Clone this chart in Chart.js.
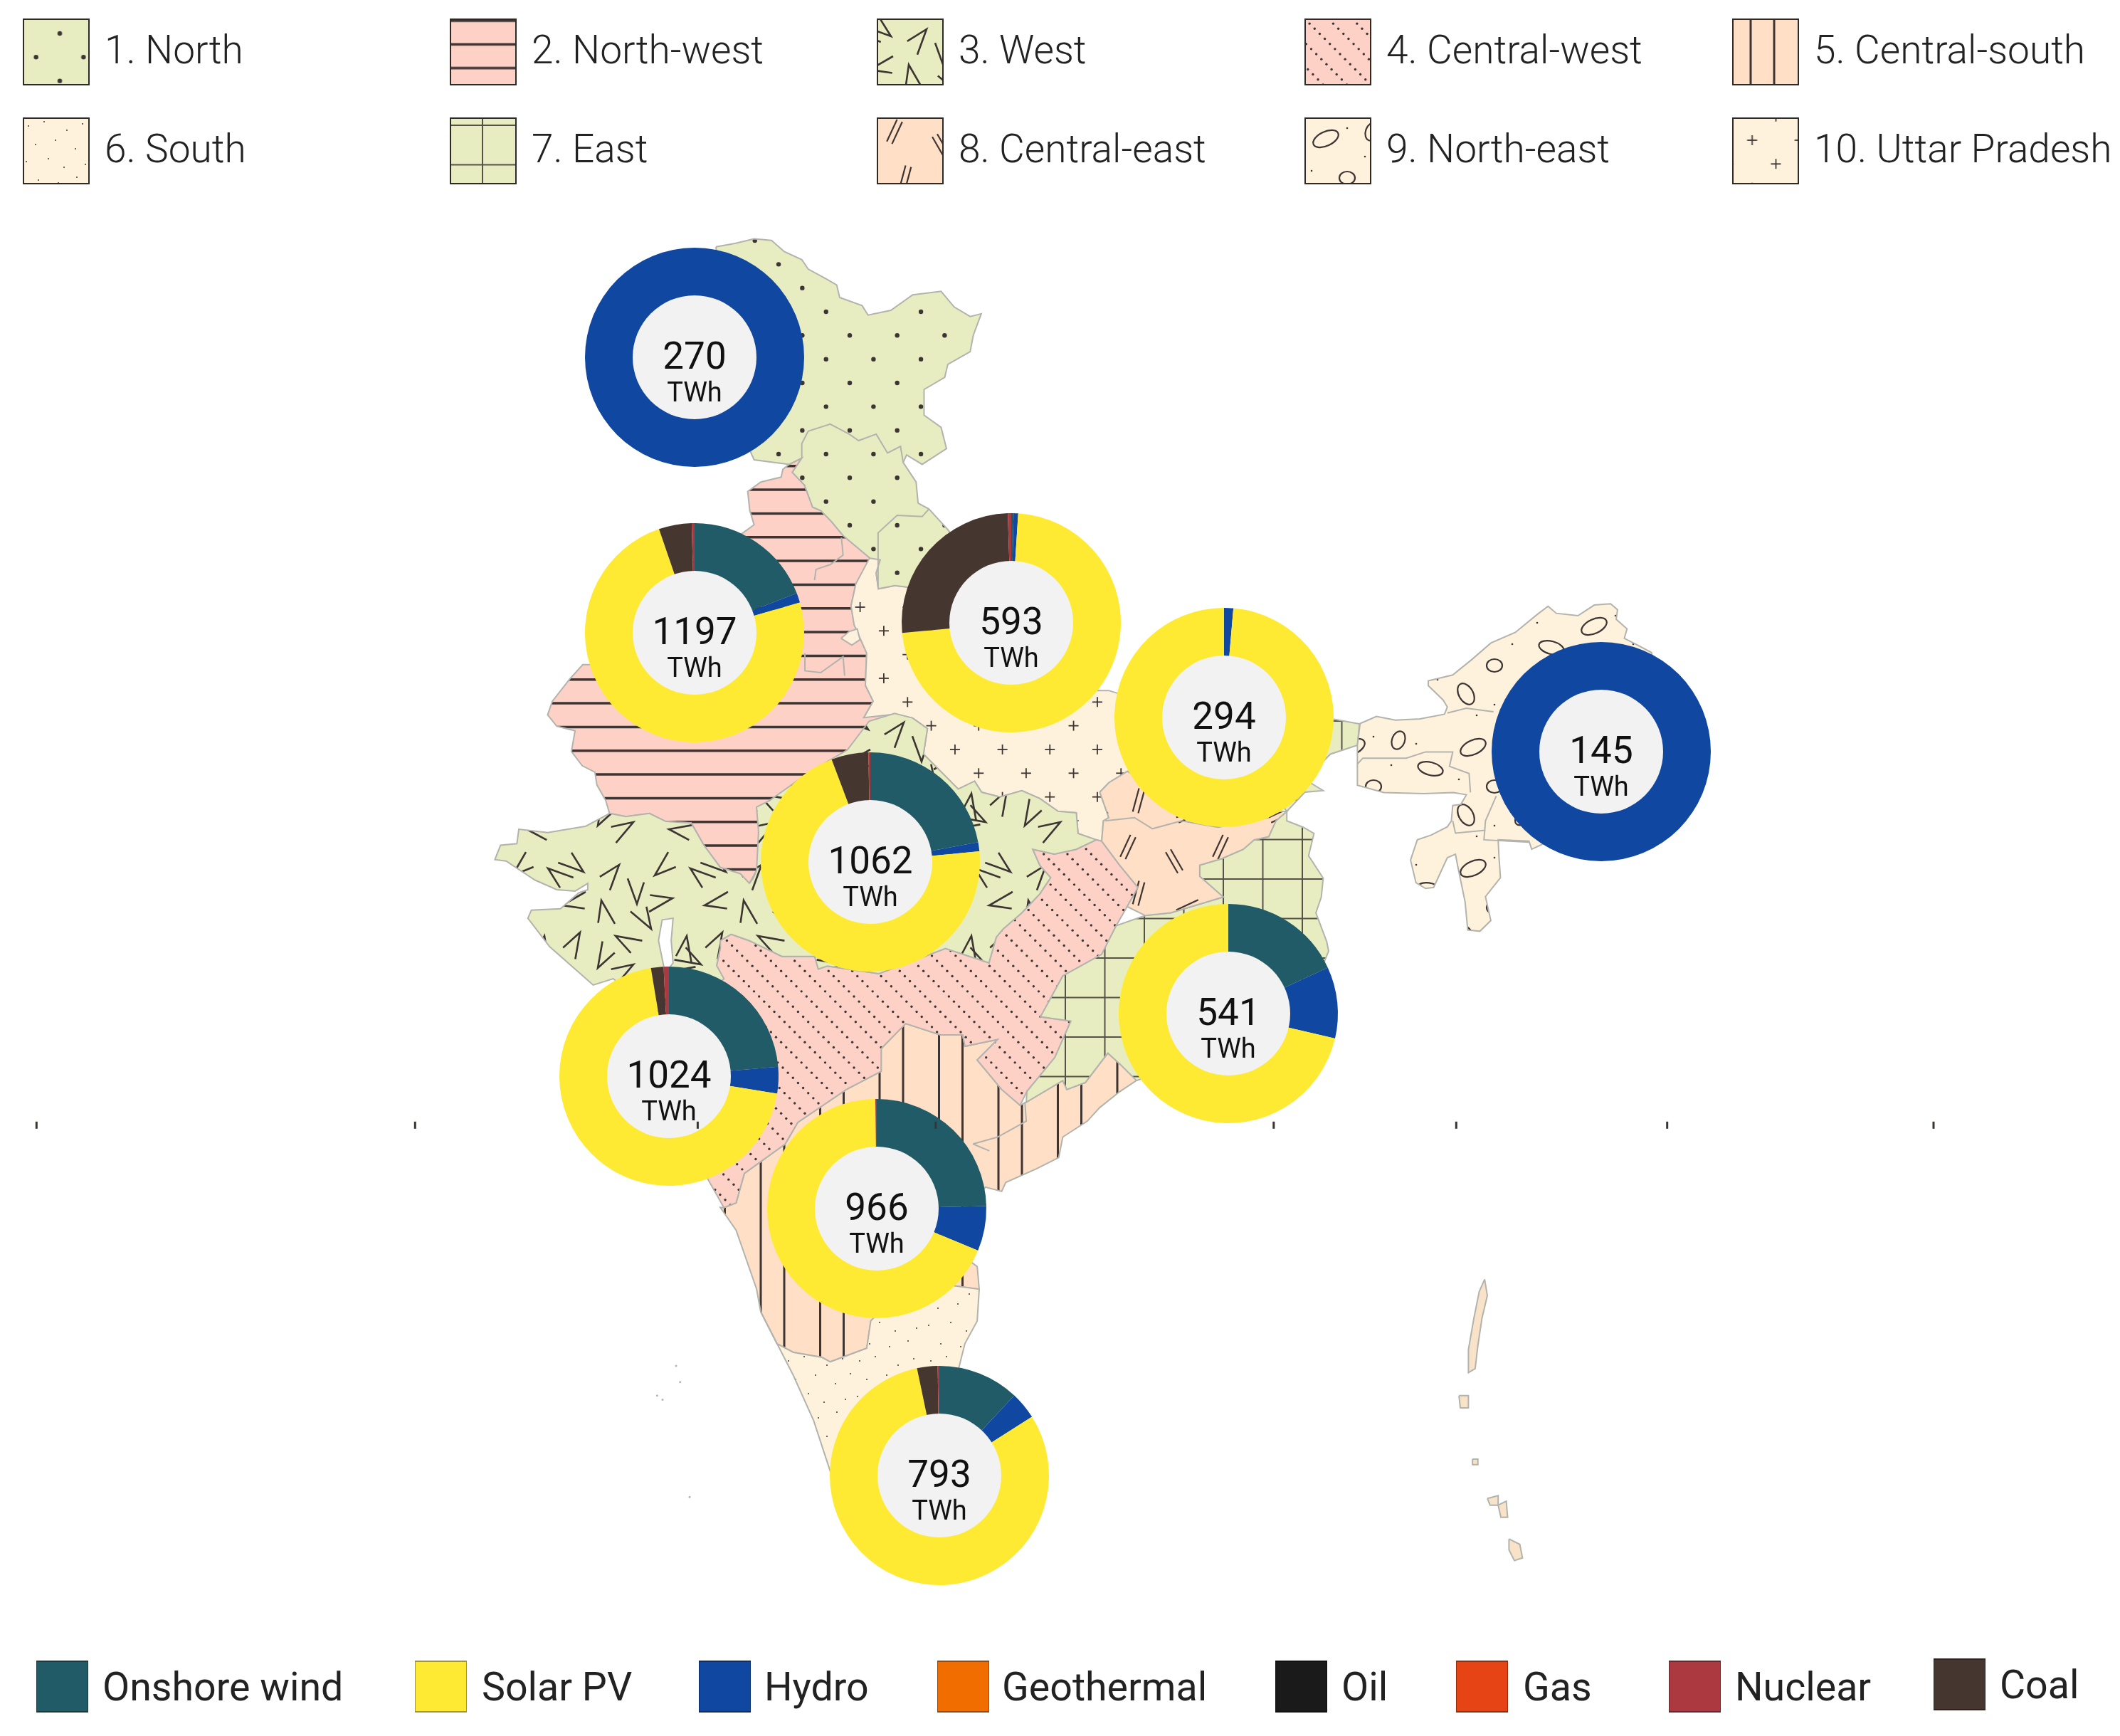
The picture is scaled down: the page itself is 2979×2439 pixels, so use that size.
<!DOCTYPE html>
<html>
<head>
<meta charset="utf-8">
<title>India regions</title>
<script src="https://cdn.jsdelivr.net/npm/chart.js@4"></script>
<style>
  html, body { margin: 0; background: #fff; }
  #page { position: relative; width: 2979px; height: 2439px; overflow: hidden; font-family: Roboto, sans-serif; }
  canvas { position: absolute; }
  .hole { position: absolute; width: 174px; height: 174px; border-radius: 50%; background: #f2f2f2; z-index: 3; }
  .num, .unit, .lab { position: absolute; white-space: nowrap; line-height: 1; transform: translateY(-50%); }
  .num, .unit { transform: translate(-50%, -50%); color: #111; z-index: 4; }
  .num { font-size: 53px; }
  .unit { font-size: 38px; }
  .lab { font-size: 55px; font-weight: 300; color: #222; }
  .fuel { font-size: 55.5px; font-weight: 400; color: #222; }
  .chip { position: absolute; width: 73px; height: 73px; box-sizing: border-box; border: 1px solid rgba(0,0,0,.35); border-top-width: 2px; border-bottom-width: 2px; }
</style>
</head>
<body>
<div id="page"></div>
<script>
// values, TWh per region
const regions = ["1. North", "2. North-west", "3. West", "4. Central-west", "5. Central-south",
                 "6. South", "7. East", "8. Central-east", "9. North-east", "10. Uttar Pradesh"];
const totals = [270, 1197, 1062, 1024, 966, 793, 541, 294, 145, 593];

const onshoreWind = [0, 229, 235, 242, 238, 95, 98, 0, 0, 2];
const hydro = [270, 17, 14, 40, 64, 32, 57, 4, 145, 4];
const solarPv = [0, 888, 752, 715, 662, 640, 386, 290, 0, 430];
const geothermal = [0, 0, 0, 0, 0, 0, 0, 0, 0, 0];
const oil = [0, 0, 0, 0, 0, 0, 0, 0, 0, 0];
const gas = [0, 0, 0, 0, 0, 0, 0, 0, 0, 0];
const coal = [0, 58, 58, 19, 0, 24, 0, 0, 0, 154];
const nuclear = [0, 5, 3, 8, 2, 2, 0, 0, 0, 3];

// map outlines (map units)
const northOutline = [[529.5,182.5],[543.6,180],[557.7,176.6],[570.6,177.8],[580,186],[593,192],[597.7,199],[610.6,206],[618.8,210.7],[621,220],[637.6,226],[642,233],[658.8,229.5],[675,218],[696,215.4],[705.7,227],[717.5,234],[725.7,232],[719.8,248],[717.5,260],[701,269.4],[698.7,279],[683.4,288],[683.4,307],[696,316],[700,331.7],[682,343.4],[670.5,336.4],[668,342],[677.5,356.4],[679,372],[687,376.4],[701,391.6],[715,410],[690,440],[669.7,434],[661.7,433],[649.6,435.4],[648,423.7],[651,414],[643.5,412.8],[623.5,396],[615,385.7],[607,377.5],[601,375],[595,358.7],[586,349.3],[593,338.7],[583.6,343.4],[557.7,340],[540,300]];
const northWestOutline = [[593,338.7],[586,349.3],[595,358.7],[601,375],[607,377.5],[615,385.7],[623.5,396],[643.5,412.8],[633,431.6],[629.4,448],[631.7,462],[641,483],[640,506.7],[645.8,518.5],[638.9,530.6],[661.7,528.2],[652.3,538.8],[626.8,555.3],[610,590],[562,634],[559.5,643.8],[554.2,653.2],[547.5,646.1],[532.7,641.4],[520.6,625],[511.2,608.5],[492.4,607.4],[480.3,601.5],[462.9,603.8],[450.8,601.5],[448,592],[441.4,580.3],[440,571],[430.6,566.2],[422.6,555.7],[425.3,540.4],[411.8,537],[405,528.6],[408.5,518.5],[421.4,502],[431,491.5],[438,491.5],[470,440],[549.5,394],[557.7,388],[554.5,377.5],[553,363.4],[562.7,356.4],[577.7,352.8],[579,347],[583.6,343.4]];
const westOutline = [[450.8,601.5],[462.9,603.8],[480.3,601.5],[492.4,607.4],[511.2,608.5],[520.6,625],[532.7,641.4],[547.5,646.1],[554.2,653.2],[556.9,649.7],[559.5,643.8],[561,615],[559.5,596.8],[569,592],[600,570],[626.7,554.5],[642.8,533.3],[661.6,527.5],[675,531],[685.9,538.8],[683,557.6],[708.7,583.5],[720.8,577.6],[726,585.8],[739.6,589.3],[755.7,584.6],[769,590.5],[782.5,599.9],[796,601],[797.3,616.3],[810.7,621],[796,628],[779.8,631.6],[763.7,628],[769,640],[777,649],[769,661],[755.7,675],[742,686.8],[736.8,693],[731.4,712],[699.2,701.3],[650,720],[611.9,714.3],[605.2,716.6],[602.5,707.2],[578.3,707.2],[554,695.5],[540.7,690.8],[532.7,695.5],[532.7,701],[530,714],[535.4,723.7],[500,760],[453.5,723.7],[438.7,728.4],[425.3,716.6],[406.5,700],[390.4,679],[393,673],[414.5,672],[428,660.2],[434.7,657.9],[434.7,653.2],[425.3,659],[411.8,657.9],[395.7,650.8],[374.3,636.7],[366,635.6],[370.2,625],[382.3,623.8],[383.7,613.2],[405.1,615.6],[433.3,610.9]];
const gulfOutline = [[492,720],[487,695.5],[489.7,680.2],[497.8,679],[496.4,695.5],[497.8,712]];
const centralWestOutline = [[532.7,695.5],[540.7,690.8],[554,695.5],[578.3,707.2],[602.5,707.2],[605.2,716.6],[611.9,714.3],[650,720],[699.2,701.3],[731.4,712],[736.8,693],[742,686.8],[755.7,675],[769,661],[777,649],[769,640],[763.7,628],[779.8,631.6],[796,628],[810.7,621],[814.8,622],[828.2,639.9],[841.6,656.3],[833.6,670.4],[825.5,684.5],[814.8,705.7],[786,721.7],[769.5,751.9],[792,755],[780.1,782],[759.5,807],[754.4,817.3],[740.8,805.6],[722.7,783.8],[737.8,768.7],[713.6,773.7],[712,765.3],[695.5,765.3],[669.8,756.9],[651.7,775.4],[651.7,792.2],[626,805.6],[590,830],[580.7,845.9],[550.5,867.7],[544.4,889.5],[535.4,893],[523,871],[505,800],[530,714],[532.7,701]];
const centralSouthOutline = [[669.8,756.9],[695.5,765.3],[712,765.3],[713.6,773.7],[737.8,768.7],[722.7,783.8],[740.8,805.6],[754.4,817.3],[759,815],[786,799],[789,805.6],[802.7,800.5],[819.3,778.7],[828.4,787],[843,795],[840.5,799],[828.4,807],[813.3,819],[804.2,829],[786,840.8],[783,856],[766.5,864.3],[743.8,874.4],[740.8,881],[728.7,877.8],[700,920],[722.7,936.5],[724.2,953.3],[700,950],[660,960],[644,976.8],[641,997],[614,1007],[607.9,1003.7],[586.7,1000],[574.6,993.6],[562.6,970],[559.5,953],[544.4,909.7],[532.7,892.8],[535.4,893],[544.4,889.5],[550.5,867.7],[580.7,845.9],[590,830],[626,805.6],[651.7,792.2],[651.7,775.4]];
const southOutline = [[562.6,970],[574.6,993.6],[586.7,1000],[607.9,1003.7],[614,1007],[641,997],[644,976.8],[660,960],[700,950],[724.2,953.3],[722.7,976.8],[713.6,993.6],[709,1012],[700,1080],[650,1130],[620,1105],[613.9,1087.6],[601.8,1050.6],[586.7,1017]];
const eastOutline = [[951.7,600],[951.7,607],[963.8,611.7],[971.8,616.3],[967.8,632.8],[978.6,649.3],[977.2,663.3],[973.2,675],[981.2,696.2],[982.6,703.3],[960,760],[840.5,799],[828.4,787],[819.3,778.7],[802.7,800.5],[789,805.6],[786,799],[759,815],[759.5,807],[780.1,782],[792,755],[769.5,751.9],[786,721.7],[814.8,705.7],[825.5,684.5],[847,677],[865.8,675],[904.7,663.3],[887.3,648],[887.3,639.8],[903.4,635],[919.5,628],[927.5,621],[938.3,618.7],[943.6,607]];
const eastNorthOutline = [[960,530],[986.6,531.8],[1005.4,535.3],[1003.9,551],[984,557.6],[965,576.4],[978.6,584.6],[965,585.8],[951.7,600],[930,570]];
const centralEastOutline = [[813.4,585.8],[820,578.8],[833.6,570.5],[900,600],[951.7,600],[943.6,607],[938.3,618.7],[927.5,621],[919.5,628],[903.4,635],[887.3,639.8],[887.3,648],[904.7,663.3],[865.8,675],[847,677],[833.6,670.4],[841.6,656.3],[828.2,639.9],[814.8,622],[816,607],[820,604.6]];
const northEastOutline = [[1003.9,551],[1005.9,535],[1018,529.8],[1032,532.5],[1050.2,531.6],[1068.3,528.1],[1070.4,522.8],[1067.3,517.6],[1056.3,507],[1056.3,503.5],[1074.4,499.1],[1088.5,487.7],[1102.6,475.5],[1120.7,467.6],[1136.8,454.4],[1144.9,448.3],[1151,453.5],[1167,455.3],[1179.1,447.4],[1191.2,446.5],[1196.3,450.9],[1195.3,457.9],[1203.3,465],[1201.3,472],[1211.4,477.2],[1221.4,482.5],[1240,560],[1150,620],[1132.8,628],[1130.8,622],[1108,621],[1108.6,633.4],[1109.7,649],[1098.6,663],[1102.6,680.7],[1094.5,688.6],[1085.5,687.7],[1083.5,666.7],[1078.4,642],[1076.4,631.6],[1070.4,634.2],[1060.3,656.2],[1054.3,657],[1047.2,652.7],[1043.2,636],[1048.2,621],[1058.3,617.6],[1070.4,611.4],[1073.4,607],[1074.4,595.6],[1080.4,594.8],[1084.5,587.7],[1075,586],[1053,586.9],[1023.4,586],[1003.9,580.7],[1003.9,577.2]];
const uttarPradeshOutline = [[644,411],[633,431.6],[629.4,448],[631.7,462],[641,483],[640,506.7],[645.8,518.5],[638.9,530.6],[661.7,528.2],[675,531],[685.9,538.8],[683,557.6],[708.7,583.5],[720.8,577.6],[726,585.8],[739.6,589.3],[755.7,584.6],[769,590.5],[782.5,599.9],[796,601],[797.3,616.3],[810.7,621],[814.8,622],[816,607],[820,604.6],[813.4,585.8],[820,578.8],[833.6,570.5],[860,560],[850,520],[820,510.6],[812,510.6],[790,480],[700,430],[669.7,434],[661.7,433],[649.6,435.4],[648,423.7],[651,414]];
const delhiOutline = [[622,472],[628,467],[634,465],[636,473],[630,477]];
const islandOutlines = [
  [[1098,946],[1100,958],[1096,975],[1093,995],[1091,1012],[1086,1015],[1086,998],[1090,975],[1094,955]],
  [[1079,1032],[1086,1032],[1086,1041],[1080,1041]],
  [[1089,1079],[1093,1079],[1093,1083],[1089,1083]],
  [[1100,1108],[1108,1106],[1108,1113],[1102,1113]],
  [[1108,1113],[1114,1110],[1115,1122],[1110,1122]],
  [[1116,1138],[1124,1142],[1126,1152],[1120,1154],[1116,1146]]
];
const stateBorders = [
  [[593,339],[593,328],[597.7,318.8],[614,313.6],[628,321],[635,325.8],[648,321],[656.4,335],[666,330],[668,342]],
  [[649.4,434],[649.4,394],[663.5,381],[682,382],[687,376.4]],
  [[622.3,397.5],[623.5,410.4],[614,417.5],[603.5,421],[602.4,429]],
  [[595.3,483],[595.3,496],[607,497.4],[623.5,485.6],[624.7,499.7]],
  [[817.4,607],[839,604.6],[852.3,612.8],[873.8,607],[900.7,611.7],[938.3,604.6]],
  [[719.6,845.9],[737.8,840.8],[759,829],[758,815]],
  [[719.6,845.9],[731.7,851]],
  [[1003.9,565],[1007.9,560.6],[1023.4,560.6],[1040,560.6],[1054.3,556],[1074.4,556],[1072,566.7],[1086.5,572],[1087.5,586]],
  [[1070.4,527.2],[1084.5,523.7],[1104.6,526.3]],
  [[1106.6,588.6],[1098.6,607],[1097.5,621],[1130.8,622.8]],
  [[1074.4,607],[1076.4,616],[1098.6,614]]
];
const specks = [[486,1032],[500,1010],[510,1107],[490,1035],[503,1022]];
const strayTicks = [27, 307, 516, 692, 942, 1077, 1233, 1430];

// page layout
const mapWidth = 2979 / 1.9, mapHeight = 2439 / 1.9;
const donutSpots = [[976,502],[976,889],[1223,1211],[940,1512],[1232,1698],[1320,2073],[1726,1424],[1720,1008],[2250,1056],[1421,875]];
const page = document.getElementById("page");

function addCanvas(x, y, w, h, z) {
    const c = document.createElement("canvas");
    c.width = w; c.height = h;
    c.style.cssText = `left:${x}px;top:${y}px;width:${w}px;height:${h}px;z-index:${z}`;
    page.appendChild(c);
    return c;
}

function addText(cls, text, x, y) {
    const el = document.createElement("div");
    el.className = cls;
    el.textContent = text;
    el.style.left = x + "px";
    el.style.top = y + "px";
    page.appendChild(el);
    return el;
}

// ---- hatch tiles ----
const ink = "#3c3533";

function tile(size, bg, draw) {
    const c = document.createElement("canvas");
    c.width = size; c.height = size;
    const g = c.getContext("2d");
    g.fillStyle = bg;
    g.fillRect(0, 0, size, size);
    g.strokeStyle = ink;
    g.fillStyle = ink;
    g.lineCap = "butt";
    // every motif is painted 9 times so it wraps at the tile edge
    for (const dx of [-size, 0, size]) {
        for (const dy of [-size, 0, size]) {
            g.save();
            g.translate(dx, dy);
            draw(g);
            g.restore();
        }
    }
    return c;
}

function dot(g, x, y, r) {
    g.beginPath();
    g.arc(x, y, r, 0, Math.PI * 2);
    g.fill();
}

function seg(g, x1, y1, x2, y2) {
    g.beginPath();
    g.moveTo(x1, y1);
    g.lineTo(x2, y2);
    g.stroke();
}

const chevrons = [[20,25,200],[70,15,110],[120,30,300],[170,20,20],[45,65,60],[95,70,250],[145,62,150],[190,72,330],
                  [15,110,100],[65,115,10],[115,105,220],[165,115,80],[40,160,280],[90,155,130],[140,165,350],[185,155,190]];
const doubleStrokes = [[25,20,-65],[90,40,60],[40,85,105],[110,105,-25]];
const ovals = [[30,30,19,10,-25],[95,20,9,13,20],[140,60,18,9,15],[60,85,11,9,0],[20,125,10,16,-30],[105,125,19,10,-40]];
const fineDots = [[8,12],[30,6],[62,18],[84,9],[18,38],[46,32],[74,44],[95,30],[5,62],[36,58],[58,70],[88,66],[22,88],[50,92],[76,84]];
const ovalDots = [[60,15],[120,25],[10,75],[85,55],[150,105],[60,140],[135,150],[35,155]];

const hatch = {
    north: tile(200, "#e8edc1", g => {
        for (let i = 0; i < 3; i++) for (let j = 0; j < 3; j++) {
            dot(g, 27.4 + i * 66.67, 38 + j * 66.67, 3.2);
            dot(g, 60.7 + i * 66.67, 71.3 + j * 66.67, 3.2);
        }
    }),
    northWest: tile(100, "#fdd1c6", g => {
        g.lineWidth = 3.5;
        for (let j = 0; j < 3; j++) seg(g, 0, 21.4 + j * 33.33, 100, 21.4 + j * 33.33);
    }),
    west: tile(200, "#e8edc1", g => {
        g.lineWidth = 2.6;
        for (const [x, y, a] of chevrons) {
            const r1 = a * Math.PI / 180, r2 = (a + 38) * Math.PI / 180;
            g.beginPath();
            g.moveTo(x + 38 * Math.cos(r1), y + 38 * Math.sin(r1));
            g.lineTo(x, y);
            g.lineTo(x + 32 * Math.cos(r2), y + 32 * Math.sin(r2));
            g.stroke();
        }
    }),
    centralWest: tile(100, "#fdd1c6", g => {
        for (let k = 0; k < 3; k++) for (let i = 0; i < 14; i++) {
            dot(g, (i * 7.143 + k * 33.33) % 100, i * 7.143, 1.7);
        }
    }),
    centralSouth: tile(167, "#ffdfc5", g => {
        g.lineWidth = 3;
        for (const x of [16.5, 67, 100, 150.5]) seg(g, x, 0, x, 167);
    }),
    south: tile(100, "#fff2dc", g => {
        for (const [x, y] of fineDots) dot(g, x, y, 1);
    }),
    east: tile(111, "#e8edc1", g => {
        g.lineWidth = 2;
        g.strokeStyle = "#56524a";
        for (const x of [54, 109.5]) seg(g, x, 0, x, 111);
        for (const y of [14, 69.5]) seg(g, 0, y, 111, y);
    }),
    centralEast: tile(130, "#ffdfc5", g => {
        g.lineWidth = 2.2;
        for (const [x, y, a] of doubleStrokes) {
            const r = a * Math.PI / 180;
            const c = Math.cos(r), s = Math.sin(r);
            for (const off of [-4, 4]) {
                seg(g, x - 17 * c - off * s, y - 17 * s + off * c, x + 17 * c - off * s, y + 17 * s + off * c);
            }
        }
    }),
    northEast: tile(170, "#fff2dc", g => {
        g.lineWidth = 2.2;
        for (const [x, y, rx, ry, a] of ovals) {
            g.beginPath();
            g.ellipse(x, y, rx, ry, a * Math.PI / 180, 0, Math.PI * 2);
            g.stroke();
        }
        for (const [x, y] of ovalDots) dot(g, x, y, 1.3);
    }),
    uttarPradesh: tile(200, "#fff2dc", g => {
        g.lineWidth = 1.8;
        const plus = (x, y) => { seg(g, x - 7, y, x + 7, y); seg(g, x, y - 7, x, y + 7); };
        for (let i = 0; i < 3; i++) for (let j = 0; j < 3; j++) {
            plus(8.6 + i * 66.67, 53 + j * 66.67);
            plus(41.9 + i * 66.67, 86.3 + j * 66.67);
        }
    })
};

// ---- map ----
const mapCanvas = addCanvas(0, 0, 2979, 2439, 1);
const mapCtx = mapCanvas.getContext("2d");

function shape(outline, fillStyle) {
    const pts = outline.concat([outline[0]]).map(p => ({x: p[0], y: p[1]}));
    return {
        data: pts, showLine: true, fill: "shape", tension: 0,
        backgroundColor: fillStyle, borderColor: "#b3b3ae", borderWidth: 2, pointRadius: 0
    };
}

function pat(name) {
    return mapCtx.createPattern(hatch[name], "repeat");
}

// painted in this order, later ones on top
const mapLayers = [
    shape(northWestOutline, pat("northWest")),
    shape(uttarPradeshOutline, pat("uttarPradesh")),
    shape(northOutline, pat("north")),
    shape(centralSouthOutline, pat("centralSouth")),
    shape(southOutline, pat("south")),
    shape(centralWestOutline, pat("centralWest")),
    shape(westOutline, pat("west")),
    shape(gulfOutline, "#ffffff"),
    shape(eastOutline, pat("east")),
    shape(eastNorthOutline, pat("east")),
    shape(centralEastOutline, pat("centralEast")),
    shape(northEastOutline, pat("northEast")),
    shape(delhiOutline, "#fff2dc")
];
for (const isle of islandOutlines) mapLayers.push(shape(isle, "#f8e2c8"));
for (const line of stateBorders) {
    mapLayers.push({
        data: line.map(p => ({x: p[0], y: p[1]})), showLine: true, fill: false,
        borderColor: "#b3b3ae", borderWidth: 2, pointRadius: 0
    });
}
mapLayers.push({
    data: specks.map(p => ({x: p[0], y: p[1]})), showLine: false,
    pointRadius: 1.5, pointBackgroundColor: "#b5b5b0", pointBorderWidth: 0
});
mapLayers.forEach((d, i) => { d.order = mapLayers.length - i; });

function flatOptions() {
    return {
        responsive: false, animation: false, events: [],
        layout: { padding: 0, autoPadding: false },
        plugins: { legend: { display: false }, tooltip: { enabled: false } },
        scales: {
            x: { type: "linear", display: false, min: 0, max: mapWidth },
            y: { type: "linear", display: false, min: 0, max: mapHeight, reverse: true }
        }
    };
}

new Chart(mapCtx, { type: "scatter", data: { datasets: mapLayers }, options: flatOptions() });

// ---- doughnuts ----
const fuelNames = ["Onshore wind", "Hydro", "Solar PV", "Geothermal", "Oil", "Gas", "Coal", "Nuclear"];
const fuelSeries = [onshoreWind, hydro, solarPv, geothermal, oil, gas, coal, nuclear];
const fuelColors = {
    "Onshore wind": "#215b67", "Solar PV": "#ffea33", "Hydro": "#0f47a1", "Geothermal": "#f26d00",
    "Oil": "#1a1a1a", "Gas": "#e64414", "Nuclear": "#ac3840", "Coal": "#463630"
};

regions.forEach((name, i) => {
    const [cx, cy] = donutSpots[i];
    const c = addCanvas(cx - 160, cy - 160, 320, 320, 2);
    new Chart(c, {
        type: "doughnut",
        data: {
            labels: fuelNames,
            datasets: [{
                data: fuelSeries.map(s => s[i]),
                backgroundColor: fuelNames.map(f => fuelColors[f]),
                borderWidth: 0
            }]
        },
        options: {
            responsive: false, animation: false, events: [],
            radius: 154, cutout: 87,
            plugins: { legend: { display: false }, tooltip: { enabled: false } }
        }
    });
    const hole = document.createElement("div");
    hole.className = "hole";
    hole.style.left = (cx - 87) + "px";
    hole.style.top = (cy - 87) + "px";
    page.appendChild(hole);
    addText("num", String(totals[i]), cx, cy - 2);
    addText("unit", "TWh", cx, cy + 49);
});

// ---- stray ticks that sit over everything ----
const tickCanvas = addCanvas(0, 0, 2979, 2439, 5);
new Chart(tickCanvas, {
    type: "scatter",
    data: { datasets: [{
        data: strayTicks.map(x => ({x: x, y: 832})),
        pointStyle: "line", pointRotation: 90, pointRadius: 5,
        pointBorderColor: "#3a3530", pointBorderWidth: 3
    }] },
    options: flatOptions()
});

// ---- region legend ----
const swatchHatch = [hatch.north, hatch.northWest, hatch.west, hatch.centralWest, hatch.centralSouth,
                     hatch.south, hatch.east, hatch.centralEast, hatch.northEast, hatch.uttarPradesh];
const swatchShift = [[24.6,-17],[0,-18.4],[0,0],[0,0],[-41,0],[0,0],[-8,-3],[0,0],[0,0],[19.5,-21]];
const legendCols = [32, 632, 1232, 1833, 2434];
const legendRows = [26, 165];
regions.forEach((name, i) => {
    const x = legendCols[i % 5], y = legendRows[Math.floor(i / 5)];
    const c = addCanvas(x, y, 94, 94, 1);
    const g = c.getContext("2d");
    g.save();
    g.translate(swatchShift[i][0], swatchShift[i][1]);
    g.fillStyle = g.createPattern(swatchHatch[i], "repeat");
    g.fillRect(-60, -60, 214, 214);
    g.restore();
    g.strokeStyle = "#2e2a28";
    g.lineWidth = 2;
    g.strokeRect(1, 1, 92, 92);
    addText("lab", name, x + 115, y + 44);
});

// ---- fuel legend ----
const legendFuels = ["Onshore wind", "Solar PV", "Hydro", "Geothermal", "Oil", "Gas", "Nuclear", "Coal"];
const fuelChipX = [51, 583, 982, 1317, 1792, 2046, 2345, 2717];
const fuelTextX = [144, 677, 1074, 1408, 1885, 2140, 2438, 2810];
legendFuels.forEach((f, i) => {
    const lift = f === "Coal" ? 3 : 0;
    const chip = document.createElement("div");
    chip.className = "chip";
    chip.style.left = fuelChipX[i] + "px";
    chip.style.top = (2333 - lift) + "px";
    chip.style.background = fuelColors[f];
    page.appendChild(chip);
    addText("lab fuel", f, fuelTextX[i], 2371 - lift);
});
</script>
</body>
</html>
